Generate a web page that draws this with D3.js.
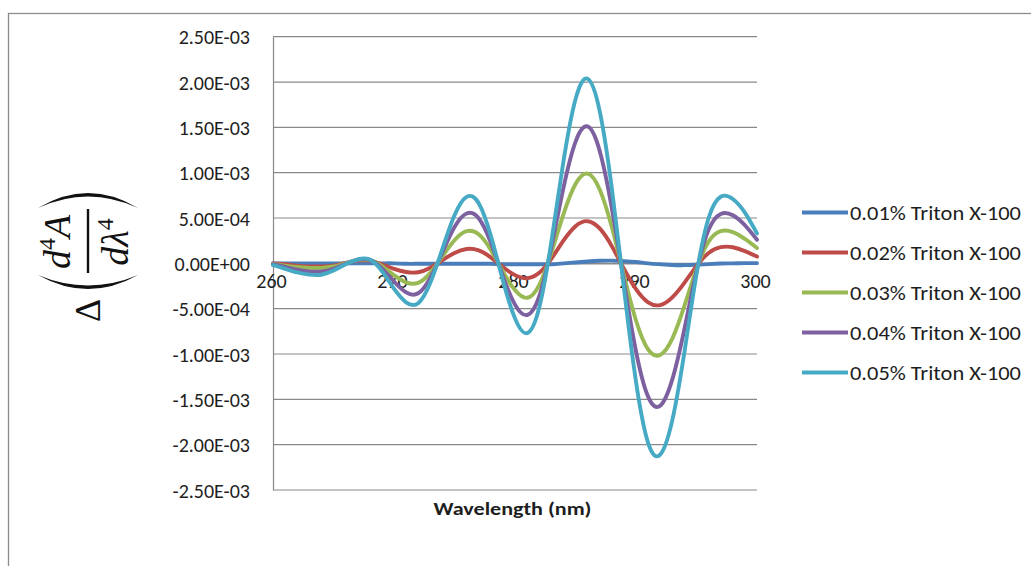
<!DOCTYPE html>
<html>
<head>
<meta charset="utf-8">
<script src="https://cdn.jsdelivr.net/npm/d3@7"></script>
<style>
  html, body { margin: 0; padding: 0; background: #ffffff; }
  svg { display: block; }
</style>
</head>
<body>
<svg id="chart" width="1031" height="566"></svg>
<script>
// Wavelength grid (nm)
const wavelengths = [260, 261, 262, 263, 264, 265, 266, 267, 268, 269,
                     270, 271, 272, 273, 274, 275, 276, 277, 278, 279,
                     280, 281, 282, 283, 284, 285, 286, 287, 288, 289,
                     290, 291, 292, 293, 294, 295, 296, 297, 298, 299, 300];

// Fourth-derivative difference spectra, in units of 1e-4
const valueUnit = 1e-4;
const triton001 = [0, 0, 0, 0, 0, 0, 0, 0, 0, 0,
                   0, -0.05, -0.05, -0.05, -0.05, -0.05, -0.05, -0.05, -0.05, -0.1,
                   -0.1, -0.1, -0.1, -0.1, 0, 0.1, 0.2, 0.28, 0.3, 0.25,
                   0.15, 0, -0.1, -0.18, -0.2, -0.15, -0.08, -0.02, 0, 0.02, 0.02];
const triton002 = [0, -0.1, -0.25, -0.33, -0.35, -0.25, 0.05, 0.3, 0.3, -0.1,
                   -0.6, -0.95, -0.98, -0.48, 0.35, 1.15, 1.58, 1.43, 0.66, -0.4,
                   -1.3, -1.65, -1.05, 0.5, 2.5, 4.1, 4.65, 3.85, 1.9, -0.6,
                   -2.85, -4.3, -4.6, -3.75, -2.15, -0.3, 1.15, 1.78, 1.78, 1.35, 0.75];
const triton003 = [-0.05, -0.25, -0.4, -0.5, -0.5, -0.35, 0, 0.35, 0.35, -0.3,
                   -1.3, -2.1, -2.15, -1.05, 0.77, 2.55, 3.55, 3.2, 1.48, -0.9,
                   -2.95, -3.8, -2.4, 1.13, 5.4, 8.75, 9.9, 8.15, 4.0, -1.3,
                   -6.3, -9.5, -10.1, -8.3, -4.7, -0.6, 2.4, 3.55, 3.45, 2.7, 1.7];
const triton004 = [-0.1, -0.4, -0.7, -0.88, -0.9, -0.6, -0.05, 0.4, 0.38, -0.55,
                   -2.0, -3.2, -3.3, -1.6, 1.2, 4.0, 5.5, 4.98, 2.3, -1.41,
                   -4.55, -5.7, -3.65, 1.75, 8.3, 13.4, 15.1, 12.4, 6.1, -2.0,
                   -9.7, -14.7, -15.7, -12.8, -7.25, -0.9, 3.7, 5.45, 5.3, 4.2, 2.6];
const triton005 = [-0.2, -0.6, -1.0, -1.25, -1.26, -0.8, -0.09, 0.45, 0.42, -0.86,
                   -2.8, -4.3, -4.4, -2.15, 1.6, 5.3, 7.33, 6.64, 3.06, -1.88,
                   -6.07, -7.7, -4.9, 2.36, 11.2, 18.1, 20.37, 16.8, 8.3, -2.7,
                   -13.06, -19.8, -21.1, -17.3, -9.8, -1.2, 5.0, 7.35, 7.1, 5.6, 3.3];

const seriesNames = ["0.01% Triton X-100", "0.02% Triton X-100", "0.03% Triton X-100",
                     "0.04% Triton X-100", "0.05% Triton X-100"];
const seriesValues = [triton001, triton002, triton003, triton004, triton005];
const seriesColors = ["#4a7ebb", "#be4b48", "#98b954", "#7d60a0", "#46aac5"];

const xTicks = [260, 270, 280, 290, 300];
const yTicks = [-2.5e-3, -2.0e-3, -1.5e-3, -1.0e-3, -5.0e-4, 0, 5.0e-4, 1.0e-3, 1.5e-3, 2.0e-3, 2.5e-3];

const xTitle = "Wavelength (nm)";

// ---- layout ----
const svg = d3.select("#chart");
const plot = { left: 273, right: 757, top: 36.7, bottom: 490 };
const gridColor = "#898989";
const textColor = "#1e1e1e";
const uiFont = "Carlito, Calibri, Lato, 'Open Sans', sans-serif";

// outer chart-area frame (continues past the right and bottom edges)
svg.append("rect")
  .attr("x", 8.5).attr("y", 13.5)
  .attr("width", 1100).attr("height", 700)
  .attr("fill", "none").attr("stroke", "#8c8c8c").attr("stroke-width", 1.3);

const x = d3.scaleLinear().domain([260, 300]).range([plot.left, plot.right]);
const y = d3.scaleLinear().domain([-2.5e-3, 2.5e-3]).range([plot.bottom, plot.top]);

// Excel-style scientific notation, e.g. 2.50E-03
function sci(v) {
  if (v === 0) return "0.00E+00";
  const s = d3.format(".2e")(v).replace("\u2212", "-");   // "2.50e-3"
  const [m, e] = s.split("e");
  const n = +e.replace("\u2212", "-");
  return m + "E" + (n < 0 ? "-" : "+") + String(Math.abs(n)).padStart(2, "0");
}

// horizontal gridlines
svg.append("g")
  .selectAll("line")
  .data(yTicks)
  .join("line")
  .attr("x1", plot.left).attr("x2", plot.right)
  .attr("y1", d => y(d)).attr("y2", d => y(d))
  .attr("stroke", gridColor).attr("stroke-width", 1.2);

// value axis (no tick marks, labels only)
const yAxis = d3.axisLeft(y).tickValues(yTicks).tickFormat(sci).tickSize(0).tickPadding(23);
const yg = svg.append("g").attr("transform", `translate(${plot.left},0)`).call(yAxis);
yg.select(".domain").attr("stroke", gridColor).attr("stroke-width", 1.2);
yg.selectAll("text")
  .attr("font-family", uiFont).attr("font-size", 20).attr("fill", textColor)
  .attr("dy", "0.36em");

// category axis sits on the zero line
const xAxis = d3.axisBottom(x).tickValues(xTicks).tickFormat(d3.format("d")).tickSize(0).tickPadding(21);
const xg = svg.append("g").attr("transform", `translate(0,${y(0)})`).call(xAxis);
xg.select(".domain").attr("stroke", gridColor).attr("stroke-width", 1.2);
xg.selectAll("text")
  .attr("font-family", uiFont).attr("font-size", 20).attr("fill", textColor)
  .attr("dx", "-2").attr("dy", "0.2em");

// series lines
const line = d3.line()
  .x((d, i) => x(wavelengths[i]))
  .y(d => y(d * valueUnit))
  .curve(d3.curveNatural);

svg.append("g")
  .selectAll("path")
  .data(seriesValues)
  .join("path")
  .attr("d", d => line(d))
  .attr("fill", "none")
  .attr("stroke", (d, i) => seriesColors[i])
  .attr("stroke-width", 3.9)
  .attr("stroke-linejoin", "round")
  .attr("stroke-linecap", "round");

// legend
const legend = svg.append("g");
const legendRows = legend.selectAll("g")
  .data(seriesNames)
  .join("g")
  .attr("transform", (d, i) => `translate(802,${212.5 + i * 40})`);
legendRows.append("line")
  .attr("x1", 0).attr("x2", 46).attr("y1", 0).attr("y2", 0)
  .attr("stroke", (d, i) => seriesColors[i]).attr("stroke-width", 4);
legendRows.append("text")
  .attr("x", 48).attr("y", 7)
  .attr("font-family", uiFont).attr("font-size", 20).attr("fill", textColor)
  .attr("textLength", 171).attr("lengthAdjust", "spacingAndGlyphs")
  .text(d => d);

// axis title
svg.append("text")
  .attr("x", 512.5).attr("y", 515)
  .attr("text-anchor", "middle")
  .attr("font-family", uiFont).attr("font-weight", "bold").attr("font-size", 19)
  .attr("textLength", 158).attr("lengthAdjust", "spacingAndGlyphs")
  .attr("fill", textColor)
  .text(xTitle);

// value-axis title: Δ(d⁴A / dλ⁴), drawn rotated
const mathFont = "'Liberation Serif', 'DejaVu Serif', serif";
const yt = svg.append("g").attr("transform", "translate(88,322) rotate(-90)").attr("fill", "#111");
yt.append("text")
  .attr("x", 0).attr("y", 12)
  .attr("font-family", mathFont).attr("font-size", 36)
  .text("Δ");
// parentheses
yt.append("path").attr("d", "M47,-50 Q19,0 47,50 Q26,0 47,-50Z");
yt.append("path").attr("d", "M114,-50 Q144,0 114,50 Q137,0 114,-50Z");
// fraction bar
yt.append("rect").attr("x", 49).attr("y", -1.2).attr("width", 64).attr("height", 2.4);
// numerator
const num = yt.append("text")
  .attr("x", 80).attr("y", -18).attr("text-anchor", "middle")
  .attr("font-family", mathFont).attr("font-size", 38);
num.append("tspan").attr("font-style", "italic").text("d");
num.append("tspan").attr("font-size", 24).attr("dy", -15).text("4");
num.append("tspan").attr("font-style", "italic").attr("dy", 15).text("A");
// denominator
const den = yt.append("text")
  .attr("x", 80).attr("y", 40).attr("text-anchor", "middle")
  .attr("font-family", mathFont).attr("font-size", 38);
den.append("tspan").attr("font-style", "italic").text("d");
den.append("tspan").attr("font-style", "italic").text("λ");
den.append("tspan").attr("font-size", 24).attr("dy", -15).text("4");
</script>
</body>
</html>
